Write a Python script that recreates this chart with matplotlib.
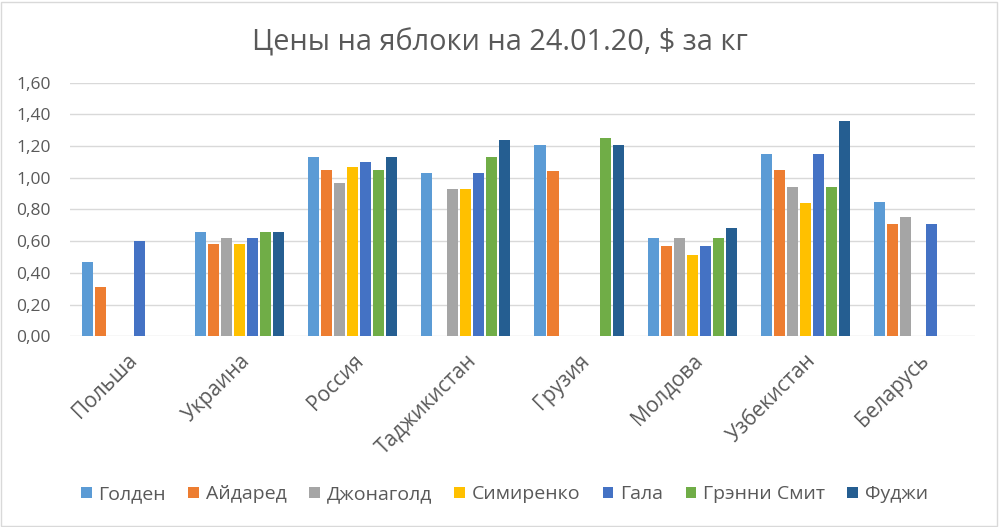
import numpy as np
import matplotlib.pyplot as plt
from matplotlib.patches import Rectangle

plt.rcParams['font.family'] = ['Open Sans', 'DejaVu Sans']

countries = ['Польша', 'Украина', 'Россия', 'Таджикистан', 'Грузия',
             'Молдова', 'Узбекистан', 'Беларусь']
sorts = ['Голден', 'Айдаред', 'Джонаголд', 'Симиренко', 'Гала',
         'Грэнни Смит', 'Фуджи']
nan = np.nan
golden = [0.47, 0.66, 1.13, 1.03, 1.21, 0.62, 1.15, 0.85]
idared = [0.31, 0.58, 1.05, nan, 1.04, 0.57, 1.05, 0.71]
jonagold = [nan, 0.62, 0.97, 0.93, nan, 0.62, 0.94, 0.75]
simirenko = [nan, 0.58, 1.07, 0.93, nan, 0.51, 0.84, nan]
gala = [0.60, 0.62, 1.10, 1.03, nan, 0.57, 1.15, 0.71]
granny = [nan, 0.66, 1.05, 1.13, 1.25, 0.62, 0.94, nan]
fuji = [nan, 0.66, 1.13, 1.24, 1.21, 0.68, 1.36, nan]
series = [golden, idared, jonagold, simirenko, gala, granny, fuji]
colors = ['#5B9BD5', '#ED7D31', '#A5A5A5', '#FFC000', '#4472C4', '#70AD47', '#255E91']

fig = plt.figure(figsize=(9.99, 5.27), dpi=100)
ax = fig.add_axes([0.070, 0.362, 0.906, 0.481])

x = np.arange(len(countries))
step = 0.115
for i, (vals, c) in enumerate(zip(series, colors)):
    ax.bar(x + (i - 3) * step, vals, width=0.098, color=c, label=sorts[i], zorder=3)

ax.set_xlim(-0.5, len(countries) - 0.5)
ax.set_ylim(0, 1.6)
yt = np.arange(0, 1.61, 0.2)
ax.set_yticks(yt)
ax.set_yticklabels([f'{v:.2f}'.replace('.', ',') for v in yt], fontsize=12.5, color='#595959')
ax.set_xticks(x)
ax.set_xticklabels(countries, rotation=45, ha='right', rotation_mode='anchor',
                   fontsize=15, color='#595959')
ax.tick_params(axis='y', length=0, pad=14)
ax.tick_params(axis='x', length=0, pad=10)
ax.grid(axis='y', color='#D9D9D9', linewidth=1, zorder=0)
for s in ax.spines.values():
    s.set_visible(False)

fig.suptitle('Цены на яблоки на 24.01.20, $ за кг', y=0.945, fontsize=20.8, color='#595959')

leg = fig.legend(loc='center', bbox_to_anchor=(0.505, 0.062), ncol=7, frameon=False,
                 fontsize=14, handlelength=0.55, handleheight=0.55, handletextpad=0.35,
                 columnspacing=1.15, labelcolor='#595959')

fig.patches.append(Rectangle((0.001, 0.002), 0.997, 0.995, transform=fig.transFigure,
                             fill=False, edgecolor='#D9D9D9', linewidth=1))

fig.savefig('out.png', dpi=100)
